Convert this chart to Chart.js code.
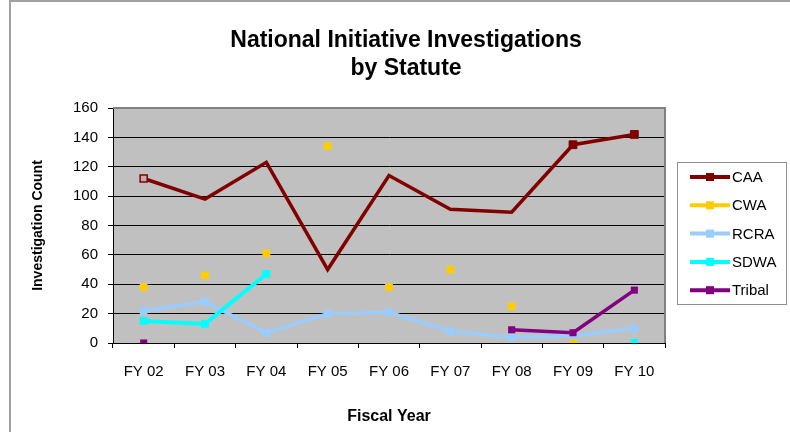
<!DOCTYPE html>
<html>
<head>
<meta charset="utf-8">
<script src="https://cdn.jsdelivr.net/npm/chart.js@4.4.1/dist/chart.umd.min.js"></script>
<style>
  html, body { margin: 0; padding: 0; background: #fff; }
  canvas { display: block; }
</style>
</head>
<body>
<canvas id="chart" width="790" height="432"></canvas>
<script>
// Values
const fiscalYears = ["FY 02", "FY 03", "FY 04", "FY 05", "FY 06", "FY 07", "FY 08", "FY 09", "FY 10"];
const caaCounts = [112, 98, 123, 50, 114, 91, 89, 135, 142];
const cwaCounts = [38, 46, 61, 134, 38, 50, 25, 0, null];
const rcraCounts = [22, 28, 7, 20, 21, 8, 4, 5, 10];
const sdwaCounts = [15, 13, 47, null, null, null, null, null, 0];
const tribalCounts = [0, null, null, null, null, null, 9, 7, 36];
const yTickValues = [0, 20, 40, 60, 80, 100, 120, 140, 160];

const chartTitle = ["National Initiative Investigations", "by Statute"];
const FONT = "'Liberation Sans', Arial, sans-serif";

// Excel-ish frame, plot background, title and legend
const excelLook = {
  id: "excelLook",
  beforeDraw(chart) {
    const ctx = chart.ctx;
    const a = chart.chartArea;
    ctx.save();
    ctx.fillStyle = "#fff";
    ctx.fillRect(0, 0, chart.width, chart.height);
    ctx.strokeStyle = "#a0a0a0";
    ctx.lineWidth = 2;
    ctx.beginPath();
    ctx.moveTo(10, chart.height);
    ctx.lineTo(10, 1);
    ctx.lineTo(chart.width, 1);
    ctx.stroke();
    ctx.fillStyle = "#c0c0c0";
    ctx.fillRect(a.left, a.top, a.right - a.left, a.bottom - a.top);
    ctx.restore();
  },
  beforeDatasetsDraw(chart) {
    const ctx = chart.ctx;
    const a = chart.chartArea;
    ctx.save();
    ctx.strokeStyle = "#808080";
    ctx.lineWidth = 2;
    ctx.beginPath();
    ctx.moveTo(a.left, a.top);
    ctx.lineTo(a.right, a.top);
    ctx.lineTo(a.right, a.bottom);
    ctx.stroke();
    ctx.restore();
  },
  afterDraw(chart) {
    const ctx = chart.ctx;
    ctx.save();
    // title
    ctx.fillStyle = "#000";
    ctx.font = "bold 23px " + FONT;
    ctx.textAlign = "center";
    ctx.textBaseline = "middle";
    ctx.fillText(chartTitle[0], 406, 41);
    ctx.fillText(chartTitle[1], 406, 69);

    // legend
    ctx.fillStyle = "#fff";
    ctx.fillRect(677, 162, 109, 142);
    ctx.strokeStyle = "#909090";
    ctx.lineWidth = 1;
    ctx.strokeRect(677.5, 162.5, 109, 142);
    ctx.font = "15px " + FONT;
    ctx.textAlign = "left";
    chart.data.datasets.forEach((ds, i) => {
      const y = 177 + i * 28.3;
      ctx.strokeStyle = ds.borderColor;
      ctx.lineWidth = 4;
      ctx.beginPath();
      ctx.moveTo(690, y);
      ctx.lineTo(730, y);
      ctx.stroke();
      ctx.fillStyle = ds.borderColor;
      ctx.fillRect(706, y - 4, 8, 8);
      ctx.fillStyle = "#000";
      ctx.fillText(ds.label, 732, y + 1);
    });
    ctx.restore();
  }
};

new Chart(document.getElementById("chart"), {
  type: "line",
  data: {
    labels: fiscalYears,
    datasets: [
      {
        label: "CAA",
        data: caaCounts,
        borderColor: "#800000",
        backgroundColor: "#800000",
        borderWidth: 3.5,
        pointStyle: "rect",
        pointRadius: [5, 0, 0, 0, 0, 0, 0, 5.5, 5.5],
        pointBackgroundColor: ["#c0aeae", "#800000", "#800000", "#800000", "#800000", "#800000", "#800000", "#800000", "#800000"],
        pointBorderColor: "#800000",
        pointBorderWidth: [1.5, 1, 1, 1, 1, 1, 1, 1, 1],
        order: 5
      },
      {
        label: "CWA",
        data: cwaCounts,
        borderColor: "#ffcc00",
        backgroundColor: "#ffcc00",
        showLine: false,
        pointStyle: "rect",
        pointRadius: 5.5,
        pointBorderWidth: 0,
        order: 4
      },
      {
        label: "RCRA",
        data: rcraCounts,
        borderColor: "#99ccff",
        backgroundColor: "#99ccff",
        borderWidth: 3.5,
        pointStyle: "rect",
        pointRadius: 5.5,
        pointBorderWidth: 0,
        order: 3
      },
      {
        label: "SDWA",
        data: sdwaCounts,
        borderColor: "#00ffff",
        backgroundColor: "#00ffff",
        borderWidth: 4,
        pointStyle: "rect",
        pointRadius: 5.5,
        pointBorderWidth: 0,
        order: 2
      },
      {
        label: "Tribal",
        data: tribalCounts,
        borderColor: "#800080",
        backgroundColor: "#800080",
        borderWidth: 3.5,
        pointStyle: "rect",
        pointRadius: 5,
        pointBorderWidth: 0,
        order: 1
      }
    ]
  },
  options: {
    responsive: false,
    animation: false,
    spanGaps: false,
    layout: { padding: { left: 20, right: 125, top: 108, bottom: 0 } },
    plugins: {
      legend: { display: false },
      title: { display: false },
      tooltip: { enabled: false }
    },
    elements: { line: { tension: 0 } },
    scales: {
      x: {
        offset: true,
        grid: {
          offset: true,
          drawOnChartArea: false,
          tickLength: 5,
          tickColor: "#000"
        },
        border: { color: "#000", width: 1 },
        ticks: { color: "#000", font: { family: FONT, size: 15 }, padding: 15, maxRotation: 0 },
        title: {
          display: true,
          text: "Fiscal Year",
          color: "#000",
          font: { family: FONT, size: 16, weight: "bold" },
          padding: { top: 0, bottom: 6 }
        },
        afterFit(scale) { scale.height = 89; }
      },
      y: {
        min: 0,
        max: 160,
        afterBuildTicks(scale) {
          scale.ticks = yTickValues.map(v => ({ value: v }));
        },
        grid: {
          color: ctx => (ctx.tick && ctx.tick.value === 160 ? "rgba(0,0,0,0)" : "#000"),
          tickColor: "#000",
          tickLength: 5,
          lineWidth: 1
        },
        border: { color: "#000", width: 1 },
        ticks: { color: "#000", font: { family: FONT, size: 15 }, padding: 10 },
        title: {
          display: true,
          text: "Investigation Count",
          color: "#000",
          font: { family: FONT, size: 14, weight: "bold" },
          padding: { top: 10, bottom: 0 }
        },
        afterFit(scale) { scale.width = 93; }
      }
    }
  },
  plugins: [excelLook]
});
</script>
</body>
</html>
